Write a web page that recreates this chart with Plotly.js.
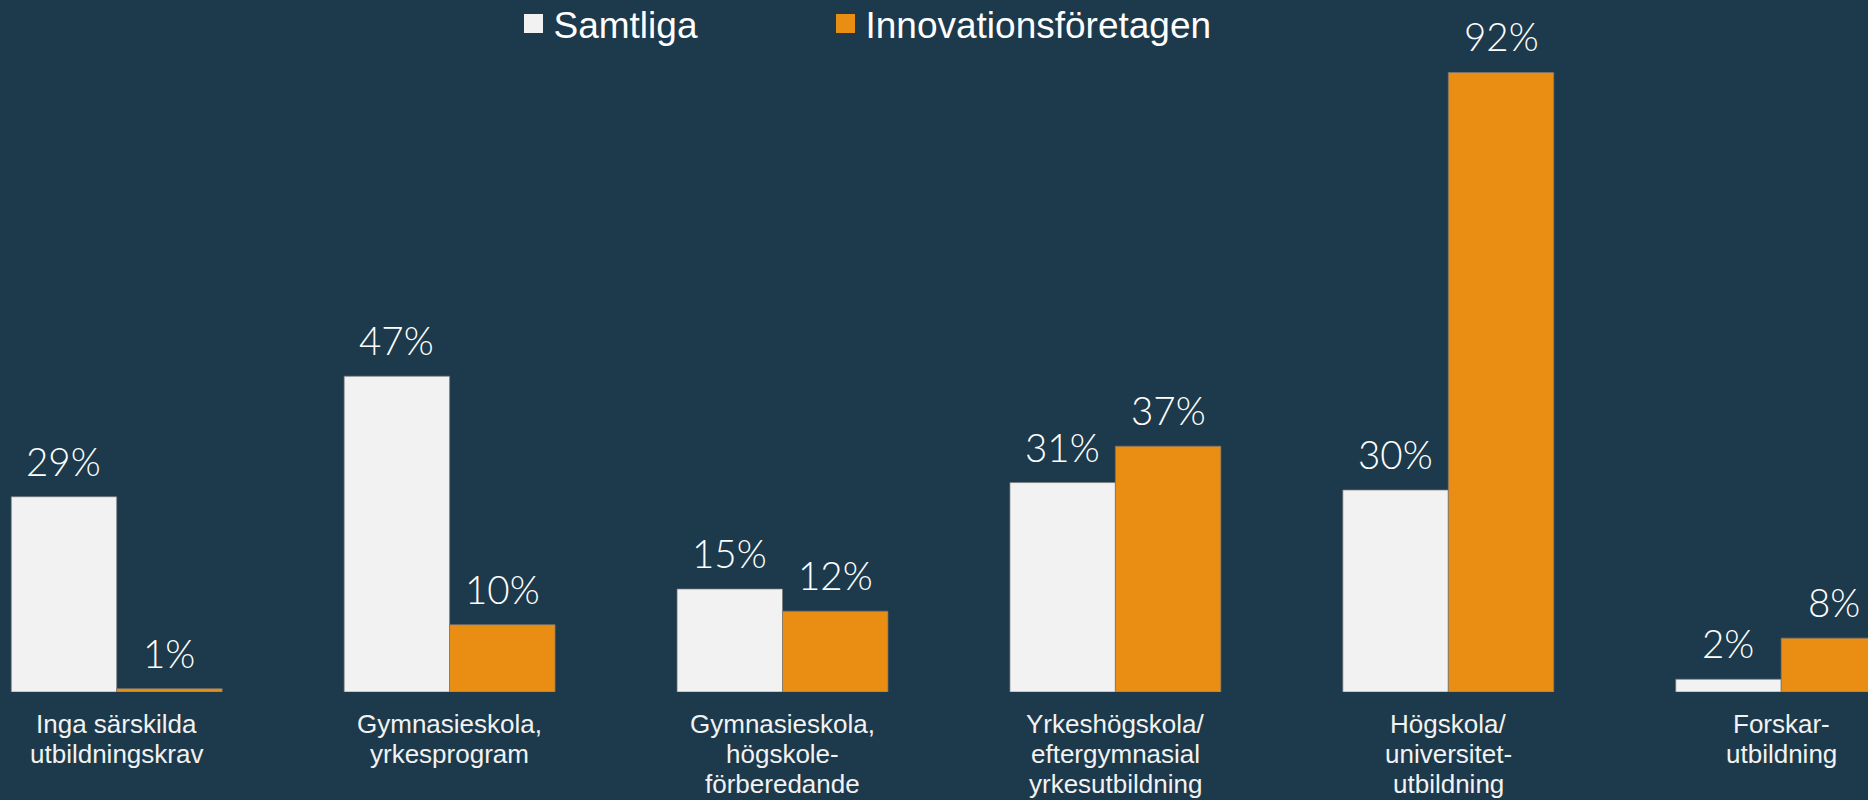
<!DOCTYPE html>
<html><head><meta charset="utf-8">
<script src="https://cdn.plot.ly/plotly-3.0.1.min.js"></script>
<style>html,body{margin:0;padding:0;background:#1d3a4c;overflow:hidden}#chart{width:1868px;height:800px}</style>
</head><body><div id="chart"></div>
<script>
const categories = [
  'Inga särskilda<br>utbildningskrav',
  'Gymnasieskola,<br>yrkesprogram',
  'Gymnasieskola,<br>högskole-<br>förberedande',
  'Yrkeshögskola/<br>eftergymnasial<br>yrkesutbildning',
  'Högskola/<br>universitet-<br>utbildning',
  'Forskar-<br>utbildning'
];
const seriesNames = ['Samtliga', 'Innovationsföretagen'];
const samtliga = [29, 46.9, 15.3, 31.1, 30, 1.9];
const innovation = [0.5, 10, 12, 36.5, 92, 8];
const seriesColors = ['#f2f2f2', '#e98e13'];

// geometry
const W = 1868, H = 800;
const mT = 20, mB = 108;
const catPx = 332.9;
const firstCenter = 116.7;
const bargap = 0.3665;
const yMax = (H - mT - mB) / 6.734;
const xRange = [-firstCenter / catPx, (W - firstCenter) / catPx];
const barPx = (1 - bargap) * catPx / 2;
const legendX = [513.5 / W, 825.5 / W];

const idx = categories.map((_, i) => i);
const series = [samtliga, innovation];

const traces = series.map((vals, s) => ({
  type: 'bar',
  name: seriesNames[s],
  x: idx,
  y: vals,
  showlegend: false,
  marker: { color: seriesColors[s], line: { color: 'rgba(120,120,120,0.7)', width: 1 } },
  hoverinfo: 'skip'
}));
// legend entries (square swatches)
seriesNames.forEach((n, s) => {
  traces.push({
    type: 'scatter', mode: 'markers', name: n,
    x: [null], y: [null],
    legend: s === 0 ? 'legend' : 'legend2',
    marker: { symbol: 'square', size: 16, color: seriesColors[s], line: { color: seriesColors[s], width: 3 } },
    hoverinfo: 'skip'
  });
});

const annotations = [];
series.forEach((vals, s) => {
  vals.forEach((v, i) => {
    annotations.push({
      x: i, y: v, xref: 'x', yref: 'y',
      xshift: (s === 0 ? -1 : 1) * barPx / 2,
      yshift: 11,
      yanchor: 'bottom', xanchor: 'center',
      text: Math.round(v) + '%',
      showarrow: false,
      font: { family: 'Lato, sans-serif', size: 38.5, weight: 300, color: '#ffffff' }
    });
  });
});
categories.forEach((c, i) => {
  c.split('<br>').forEach((line, k) => {
    annotations.push({
      x: i, y: 0, xref: 'x', yref: 'paper',
      yanchor: 'top', xanchor: 'center',
      yshift: -15 - 30 * k,
      text: line, showarrow: false,
      font: { family: '"Liberation Sans", Arial, sans-serif', size: 26, color: '#f2f2f2' }
    });
  });
});

const legendBase = {
  orientation: 'h', xanchor: 'left', y: 0.97, yref: 'container', yanchor: 'middle',
  font: { family: '"Liberation Sans", Arial, sans-serif', size: 37, color: '#ffffff' },
  bgcolor: 'rgba(0,0,0,0)', borderwidth: 0
};

const layout = {
  width: W, height: H,
  paper_bgcolor: '#1d3a4c', plot_bgcolor: '#1d3a4c',
  margin: { l: 0, r: 0, t: mT, b: mB, pad: 0, autoexpand: false },
  barmode: 'group', bargap: bargap, bargroupgap: 0,
  showlegend: true,
  legend: Object.assign({}, legendBase, { x: legendX[0] }),
  legend2: Object.assign({}, legendBase, { x: legendX[1] }),
  xaxis: { type: 'linear', range: xRange, showgrid: false, zeroline: false, showticklabels: false, ticks: '', showline: false, fixedrange: true },
  yaxis: { range: [0, yMax], showgrid: false, zeroline: false, showticklabels: false, ticks: '', showline: false, fixedrange: true },
  annotations: annotations,
  hovermode: false
};

Plotly.newPlot('chart', traces, layout, { displayModeBar: false, staticPlot: true });
</script>
</body></html>
